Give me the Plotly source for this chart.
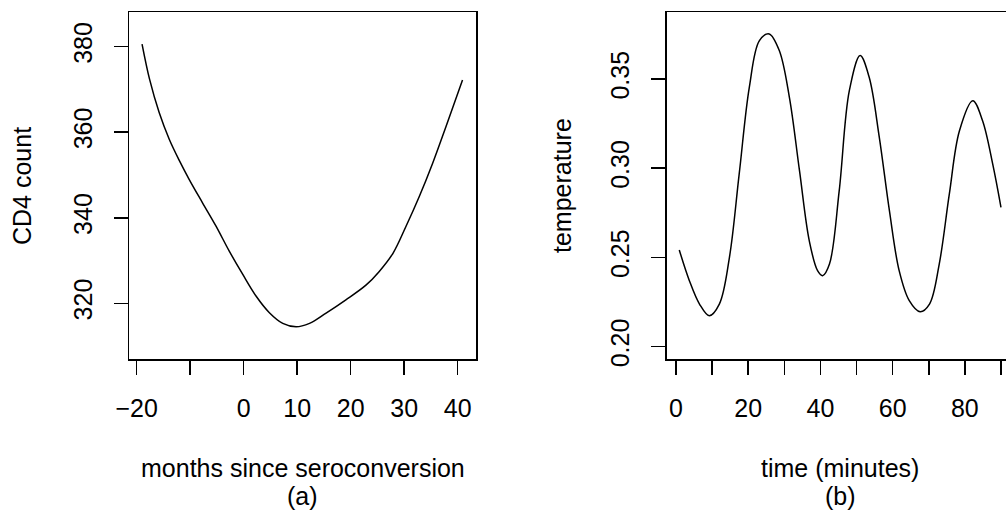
import plotly.graph_objects as go

# Panel (a): CD4 count vs months since seroconversion
months = [-19.0, -17.6, -15.8, -13.9, -12.0, -10.2, -7.7, -5.2, -2.7, -0.2,
          2.3, 4.8, 7.3, 9.8, 12.3, 15.4, 19.1, 22.9, 25.3, 27.9, 30.3,
          32.8, 35.3, 37.8, 40.9]
cd4 = [380.6, 372.4, 364.6, 358.3, 353.3, 349.0, 343.5, 338.1, 332.2, 326.8,
       321.7, 317.8, 315.3, 314.5, 315.3, 317.7, 320.8, 324.3, 327.4, 331.7,
       337.9, 344.9, 352.7, 361.3, 372.2]

# Panel (b): temperature vs time (minutes)
minutes = [0.9, 3.7, 6.5, 9.2, 12.0, 14.8, 17.5, 20.3, 23.1, 25.8, 28.6,
           31.4, 34.2, 36.9, 39.2, 40.6, 42.5, 45.2, 48.0, 51.0, 53.5, 56.3,
           59.1, 61.8, 64.6, 67.6, 70.2, 72.9, 75.7, 78.5, 82.2, 84.9, 87.7, 90.0]
temperature = [0.2542, 0.2370, 0.2239, 0.2174, 0.2239, 0.2501, 0.2968, 0.3453,
               0.3715, 0.3752, 0.3659, 0.3397, 0.2986, 0.2594, 0.2426, 0.2398,
               0.2463, 0.2874, 0.3434, 0.3631, 0.3509, 0.3173, 0.2762, 0.2426,
               0.2258, 0.2196, 0.2239, 0.2463, 0.2856, 0.3210, 0.3378, 0.3266,
               0.3024, 0.2781]

xa_ticks = [-20, -10, 0, 10, 20, 30, 40]
xa_labels = ["\u221220", "", "0", "10", "20", "30", "40"]
ya_ticks = [320, 340, 360, 380]
ya_labels = ["320", "340", "360", "380"]
xb_ticks = [0, 10, 20, 30, 40, 50, 60, 70, 80, 90]
xb_labels = ["0", "", "20", "", "40", "", "60", "", "80", ""]
yb_ticks = [0.20, 0.25, 0.30, 0.35]
yb_labels = ["0.20", "0.25", "0.30", "0.35"]

W, H = 1006, 515
FONT = "Liberation Sans, Arial, sans-serif"
FS = 25

fig = go.Figure()
fig.add_trace(go.Scatter(x=months, y=cd4, mode="lines",
                         line=dict(color="black", width=1.5, shape="spline"),
                         xaxis="x", yaxis="y", showlegend=False, hoverinfo="skip"))
fig.add_trace(go.Scatter(x=minutes, y=temperature, mode="lines",
                         line=dict(color="black", width=1.5, shape="spline"),
                         xaxis="x2", yaxis="y2", showlegend=False, hoverinfo="skip"))

common = dict(showgrid=False, zeroline=False, showline=True, linecolor="black",
              linewidth=1.5, ticks="outside", ticklen=14, tickwidth=1.5,
              tickcolor="black", automargin=False,
              tickfont=dict(family=FONT, size=FS, color="black"))

ydom = [1 - 359 / H, 1 - 12 / H]
fig.update_layout(
    width=W, height=H, margin=dict(l=0, r=0, t=0, b=0, pad=0, autoexpand=False),
    paper_bgcolor="white", plot_bgcolor="white",
    xaxis=dict(domain=[129 / W, 476 / W], range=[-21.44, 43.42], anchor="y",
               tickvals=xa_ticks, ticktext=xa_labels, mirror=True,
               ticklabelstandoff=12, **common),
    yaxis=dict(domain=ydom, range=[306.98, 388.11], anchor="x",
               tickvals=ya_ticks, ticktext=ya_labels, mirror=True, tickangle=-90,
               ticklabelstandoff=12, **common),
    xaxis2=dict(domain=[666.7 / W, 1.0], range=[-2.58, 91.39], anchor="y2",
                tickvals=xb_ticks, ticktext=xb_labels, mirror=True,
                ticklabelstandoff=12, **common),
    yaxis2=dict(domain=ydom, range=[0.19311, 0.3875], anchor="x2",
                tickvals=yb_ticks, ticktext=yb_labels, mirror=False, tickangle=-90,
                ticklabelstandoff=12, **common),
)

def ann(text, x, y, angle=0):
    fig.add_annotation(text=text, x=x / W, y=1 - y / H, xref="paper", yref="paper",
                       xanchor="center", yanchor="middle", showarrow=False,
                       textangle=angle, font=dict(family=FONT, size=FS, color="black"))

ann("months since seroconversion", 302.5, 468)
ann("(a)", 302.5, 496)
ann("CD4 count", 22, 186, -90)
ann("time (minutes)", 840, 468)
ann("(b)", 840, 496)
ann("temperature", 562, 186, -90)

fig.write_html("out.html", config={"displayModeBar": False, "staticPlot": True},
               post_script="document.body.style.margin='0';"
                           "document.documentElement.style.overflow='hidden';")
